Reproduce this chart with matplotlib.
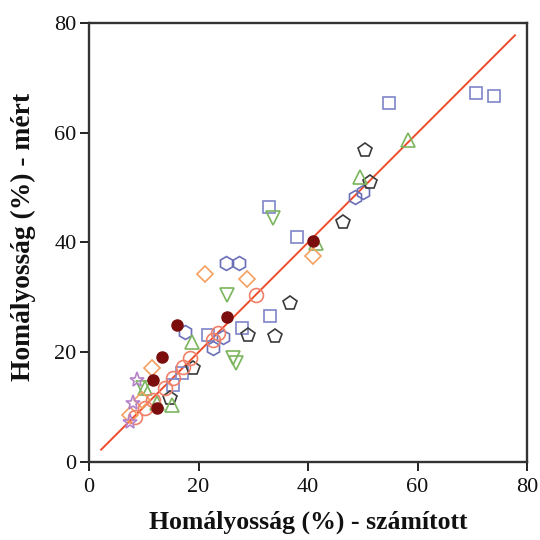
import numpy as np
import matplotlib
matplotlib.use("Agg")
import matplotlib.pyplot as plt

plt.rcParams['font.family'] = ['Liberation Serif', 'DejaVu Serif']

# measured vs computed haze (%), one group per marker
sq_x = [70.7, 74.0, 54.8, 32.9, 38.0, 33.0, 27.9, 21.7, 17.0, 15.3]
sq_y = [67.2, 66.8, 65.4, 46.4, 41.0, 26.6, 24.4, 23.1, 16.2, 14.0]

hex_x = [48.6, 50.0, 25.0, 27.4, 17.5, 22.6, 24.5]
hex_y = [48.3, 49.2, 36.2, 36.2, 23.7, 20.8, 22.8]

pent_x = [50.4, 51.3, 46.4, 36.7, 34.0, 29.0, 19.0, 14.8]
pent_y = [56.8, 51.0, 43.7, 29.0, 23.0, 23.1, 17.1, 11.7]

tup_x = [58.3, 49.5, 41.5, 18.8, 10.2, 12.4, 15.2]
tup_y = [58.7, 51.9, 39.9, 21.9, 13.5, 10.7, 10.4]

tdn_x = [33.6, 25.2, 26.3, 26.8, 9.9]
tdn_y = [44.4, 30.4, 19.0, 18.0, 13.5]

dia_x = [21.2, 28.9, 40.9, 11.5, 7.5, 9.7]
dia_y = [34.2, 33.3, 37.5, 17.1, 8.6, 11.3]

circ_x = [30.5, 23.6, 22.6, 18.4, 17.2, 15.3, 13.9, 11.7, 10.2, 8.4]
circ_y = [30.4, 23.5, 22.2, 18.9, 17.3, 15.3, 13.5, 11.3, 9.8, 8.2]

dot_x = [25.2, 16.1, 13.3, 11.7, 12.4, 40.9]
dot_y = [26.4, 25.0, 19.1, 14.9, 9.8, 40.3]

star_x = [8.8, 8.0, 7.5]
star_y = [14.9, 10.7, 7.3]

fit_x = [2.2, 77.8]

fig = plt.figure(figsize=(5.4, 5.4), dpi=100)
ax = fig.add_axes([0.165, 0.145, 0.811, 0.812])

ax.plot(fit_x, fit_x, color='#ee4d2d', lw=1.4, zorder=1)

kw = dict(ls='none', mfc='none', mew=1.2)
ax.plot(sq_x, sq_y, marker='s', ms=8.5, mec='#7f86c8', **kw)
ax.plot(hex_x, hex_y, marker='h', ms=10, mec='#6b6fb8', **kw)
ax.plot(pent_x, pent_y, marker='p', ms=10, mec='#3a3a3a', **kw)
ax.plot(tup_x, tup_y, marker='^', ms=10, mec='#7ab55c', **kw)
ax.plot(tdn_x, tdn_y, marker='v', ms=10, mec='#7ab55c', **kw)
ax.plot(dia_x, dia_y, marker='D', ms=8, mec='#f5a060', **kw)
ax.plot(circ_x, circ_y, marker='o', ms=10, mec='#f08068', **kw)
ax.plot(star_x, star_y, marker='*', ms=11, mec='#b581c8', **kw)
ax.plot(dot_x, dot_y, ls='none', marker='o', ms=8, color='#7b0d0d')

ax.set_xlim(0, 80)
ax.set_ylim(0, 80)
ax.set_xticks([0, 20, 40, 60, 80])
ax.set_yticks([0, 20, 40, 60, 80])
ax.tick_params(direction='out', length=6.5, width=1.3, labelsize=16,
               colors='#111111')
ax.tick_params(axis='x', pad=5)
ax.tick_params(axis='y', pad=2.5)
for s in ax.spines.values():
    s.set_linewidth(1.7)
    s.set_color('#333333')

ax.set_xlabel('Homályosság (%) - számított', fontsize=18.5, fontweight='bold',
              color='#111111', labelpad=10)
ax.set_ylabel('Homályosság (%) - mért', fontsize=19.8, fontweight='bold',
              color='#111111')
ax.yaxis.set_label_coords(-0.122, 0.512)

fig.savefig('out.png', dpi=100)
